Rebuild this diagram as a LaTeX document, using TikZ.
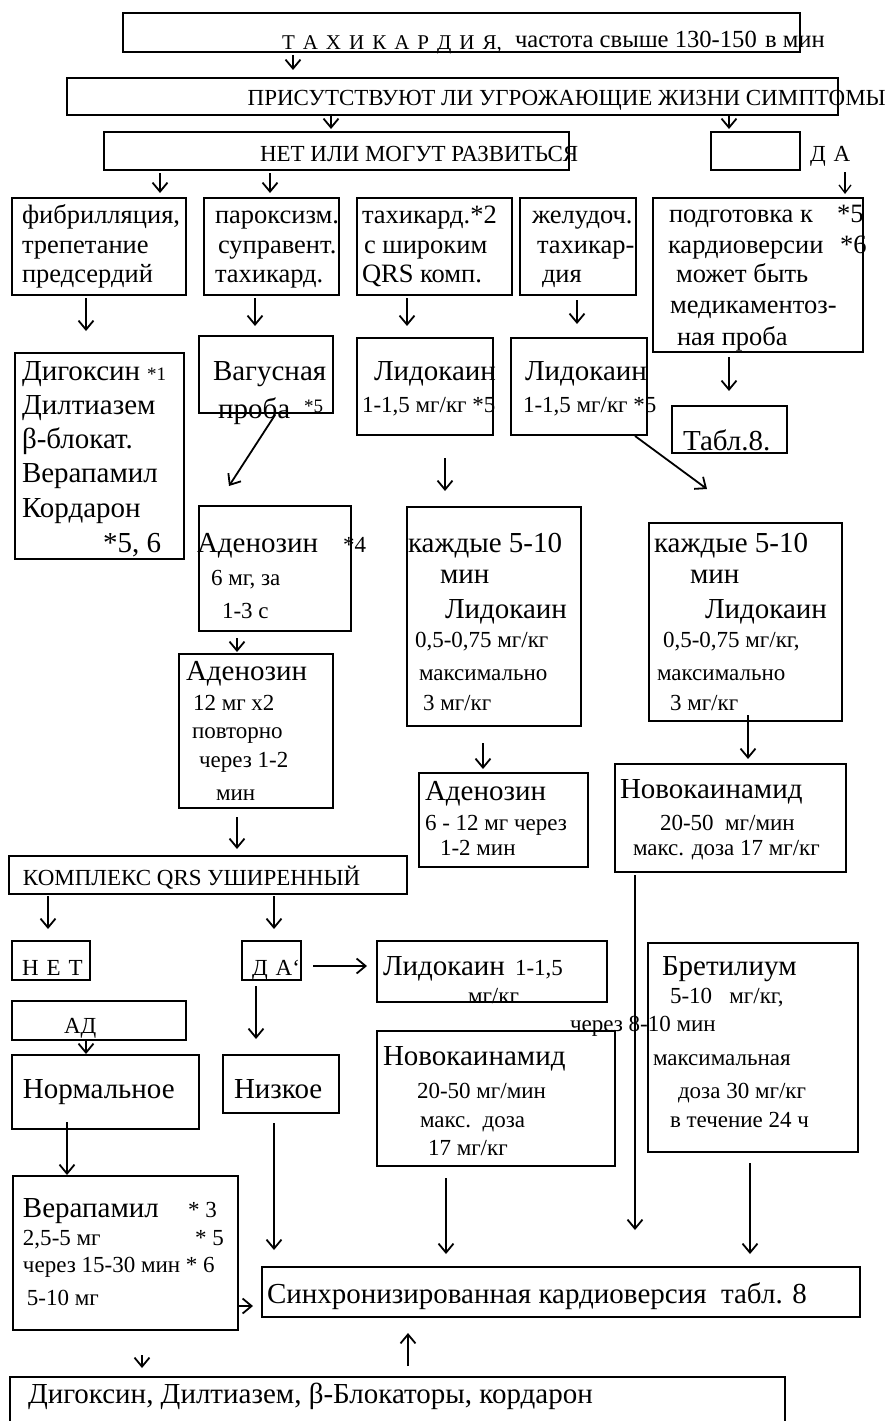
\documentclass[tikz,border=0pt]{standalone}
\usepackage{fontspec}
\setmainfont{Liberation Serif}
\usetikzlibrary{arrows.meta,fit}
% type sizes used in the chart
\newcommand\fbig{\fontsize{29}{33}\selectfont}
\newcommand\fmid{\fontsize{26.5}{30}\selectfont}
\newcommand\fsml{\fontsize{23}{27}\selectfont}
\newcommand\ftny{\fontsize{19}{22}\selectfont}
\newcommand\gp{\hspace{8pt}}
\begin{document}
\begin{tikzpicture}[x=1pt,y=-1pt,
  box/.style={draw, line width=2.4pt, inner sep=0pt, outer sep=0pt},
  lbl/.style={inner sep=0pt, outer sep=0pt, anchor=base west},
  arr/.style={line width=1.8pt, -{Straight Barb[length=9pt,width=15pt,line width=1.8pt]}},
  arrthin/.style={line width=1.3pt, -{Straight Barb[length=8pt,width=12pt,line width=1.3pt]}}]
\useasboundingbox (0,0) rectangle (887,1421);
\fill[white] (0,0) rectangle (887,1421);
\clip (0,0) rectangle (887,1421);

% ---------- boxes ----------
\node[box, fit={(123,13) (800,52)}] (tach) {};
\node[box, fit={(67,78) (838,115)}] (pris) {};
\node[box, fit={(104,132) (569,170)}] (net) {};
\node[box, fit={(711,132) (800,170)}] (da) {};
\node[box, fit={(12,198) (186,295)}] (fib) {};
\node[box, fit={(204,198) (339,295)}] (parox) {};
\node[box, fit={(357,198) (512,295)}] (wide) {};
\node[box, fit={(520,198) (636,295)}] (vent) {};
\node[box, fit={(653,198) (863,352)}] (prep) {};
\node[box, fit={(15,353) (184,559)}] (dig) {};
\node[box, fit={(199,336) (333,413)}] (vag) {};
\node[box, fit={(357,338) (493,435)}] (lidA) {};
\node[box, fit={(511,338) (647,435)}] (lidB) {};
\node[box, fit={(672,406) (787,453)}] (tab) {};
\node[box, fit={(199,506) (351,631)}] (adenA) {};
\node[box, fit={(407,507) (581,726)}] (eachA) {};
\node[box, fit={(649,523) (842,721)}] (eachB) {};
\node[box, fit={(179,654) (333,808)}] (adenB) {};
\node[box, fit={(419,773) (588,867)}] (adenC) {};
\node[box, fit={(615,764) (846,872)}] (novoA) {};
\node[box, fit={(9,856) (407,894)}] (qrs) {};
\node[box, fit={(12,941) (90,980)}] (netb) {};
\node[box, fit={(242,941) (301,980)}] (dab) {};
\node[box, fit={(377,941) (607,1002)}] (lidC) {};
\node[box, fit={(12,1001) (186,1040)}] (ad) {};
\node[box, fit={(12,1055) (199,1129)}] (norm) {};
\node[box, fit={(223,1055) (339,1113)}] (low) {};
\node[box, fit={(377,1031) (615,1166)}] (novoB) {};
\node[box, fit={(648,943) (858,1152)}] (bret) {};
\node[box, fit={(13,1176) (238,1330)}] (vera) {};
\node[box, fit={(262,1267) (860,1317)}] (sync) {};
\node[box, fit={(10,1377) (785,1440)}] (final) {};

% ---------- texts ----------
\node[lbl, font=\fontsize{21}{24}\selectfont] (tA) at (282,49) {Т\gp А\gp Х\gp И\gp К\gp А\gp Р\gp Д\gp И\gp Я,};
\node[lbl, font=\fontsize{24.6}{28}\selectfont] (tB) at (515,48) {частота свыше 130-150};
\node[lbl, font=\fontsize{24.6}{28}\selectfont] (tC) at (765,48) {в мин};
\node[inner sep=0pt, anchor=base east, font=\fsml] (tD) at (886,105) {ПРИСУТСТВУЮТ ЛИ УГРОЖАЮЩИЕ ЖИЗНИ СИМПТОМЫ};
\node[lbl, font=\fsml] (tE) at (260,161) {НЕТ ИЛИ МОГУТ РАЗВИТЬСЯ};
\node[lbl, font=\fsml] (tF) at (810,161) {Д\gp А};

\node[lbl, font=\fmid] (f1) at (22,223) {фибрилляция,};
\node[lbl, font=\fmid] (f2) at (22,253) {трепетание};
\node[lbl, font=\fmid] (f3) at (22,282) {предсердий};
\node[lbl, font=\fmid] (p1) at (215,223) {пароксизм.};
\node[lbl, font=\fmid] (p2) at (218,253) {суправент.};
\node[lbl, font=\fmid] (p3) at (215,282) {тахикард.};
\node[lbl, font=\fmid] (w1) at (362,223) {тахикард.*2};
\node[lbl, font=\fmid] (w2) at (364,253) {с широким};
\node[lbl, font=\fmid] (w3) at (362,282) {QRS комп.};
\node[lbl, font=\fmid] (v1) at (532,223) {желудоч.};
\node[lbl, font=\fmid] (v2) at (537,253) {тахикар-};
\node[lbl, font=\fmid] (v3) at (542,282) {дия};
\node[lbl, font=\fmid] (r1) at (669,222) {подготовка к};
\node[lbl, font=\fmid] (r1s) at (837,222) {*5};
\node[lbl, font=\fmid] (r2) at (668,253) {кардиоверсии};
\node[lbl, font=\fmid] (r2s) at (840,253) {*6};
\node[lbl, font=\fmid] (r3) at (676,282) {может быть};
\node[lbl, font=\fmid] (r4) at (670,313) {медикаментоз-};
\node[lbl, font=\fmid] (r5) at (677,345) {ная проба};

\node[lbl, font=\fbig] (d1) at (22,380) {Дигоксин};
\node[lbl, font=\ftny] (d1s) at (147,380) {*1};
\node[lbl, font=\fbig] (d2) at (22,414) {Дилтиазем};
\node[lbl, font=\fbig] (d3) at (22,448) {β-блокат.};
\node[lbl, font=\fbig] (d4) at (22,482) {Верапамил};
\node[lbl, font=\fbig] (d5) at (22,517) {Кордарон};
\node[lbl, font=\fbig] (d6) at (103,552) {*5, 6};

\node[lbl, font=\fbig] (g1) at (213,380) {Вагусная};
\node[lbl, font=\fbig] (g2) at (218,418) {проба};
\node[lbl, font=\ftny] (g2s) at (304,412) {*5};

\node[lbl, font=\fbig] (la1) at (374,380) {Лидокаин};
\node[lbl, font=\fsml] (la2) at (362,412) {1-1,5 мг/кг *5};
\node[lbl, font=\fbig] (lb1) at (525,380) {Лидокаин};
\node[lbl, font=\fsml] (lb2) at (523,412) {1-1,5 мг/кг *5};
\node[lbl, font=\fbig] (tb1) at (683,450) {Табл.8.};

\node[lbl, font=\fbig] (a1) at (197,552) {Аденозин};
\node[lbl, font=\fsml] (a1s) at (343,552) {*4};
\node[lbl, font=\fsml] (a2) at (211,585) {6 мг, за};
\node[lbl, font=\fsml] (a3) at (222,618) {1-3 с};

\node[lbl, font=\fbig] (e1) at (408,552) {каждые 5-10};
\node[lbl, font=\fbig] (e2) at (440,583) {мин};
\node[lbl, font=\fbig] (e3) at (445,618) {Лидокаин};
\node[lbl, font=\fsml] (e4) at (415,647) {0,5-0,75 мг/кг};
\node[lbl, font=\fsml] (e5) at (419,680) {максимально};
\node[lbl, font=\fsml] (e6) at (423,710) {3 мг/кг};

\node[lbl, font=\fbig] (k1) at (654,552) {каждые 5-10};
\node[lbl, font=\fbig] (k2) at (690,583) {мин};
\node[lbl, font=\fbig] (k3) at (705,618) {Лидокаин};
\node[lbl, font=\fsml] (k4) at (663,647) {0,5-0,75 мг/кг,};
\node[lbl, font=\fsml] (k5) at (657,680) {максимально};
\node[lbl, font=\fsml] (k6) at (670,710) {3 мг/кг};

\node[lbl, font=\fbig] (b1) at (186,680) {Аденозин};
\node[lbl, font=\fsml] (b2) at (193,710) {12 мг х2};
\node[lbl, font=\fsml] (b3) at (192,738) {повторно};
\node[lbl, font=\fsml] (b4) at (199,767) {через 1-2};
\node[lbl, font=\fsml] (b5) at (216,800) {мин};

\node[lbl, font=\fbig] (c1) at (425,800) {Аденозин};
\node[lbl, font=\fsml] (c2) at (425,830) {6 - 12 мг через};
\node[lbl, font=\fsml] (c3) at (440,855) {1-2 мин};

\node[lbl, font=\fbig] (n1) at (620,798) {Новокаинамид};
\node[lbl, font=\fsml] (n2) at (660,830) {20-50\ \ мг/мин};
\node[lbl, font=\fsml] (n3) at (633,855) {макс. доза 17 мг/кг};

\node[lbl, font=\fsml] (q1) at (23,885) {КОМПЛЕКС QRS УШИРЕННЫЙ};
\node[lbl, font=\fsml] (nt) at (22,975) {Н\gp Е\gp Т};
\node[lbl, font=\fsml] (dt) at (252,975) {Д\gp А`};
\node[lbl, font=\fbig] (lc1) at (383,975) {Лидокаин};
\node[lbl, font=\fsml] (lc2) at (515,975) {1-1,5};
\node[lbl, font=\fsml] (lc3) at (468,1003) {мг/кг};
\node[lbl, font=\fsml] (adt) at (64,1033) {АД};
\node[lbl, font=\fbig] (nm) at (23,1098) {Нормальное};
\node[lbl, font=\fbig] (lw) at (234,1098) {Низкое};

\node[lbl, font=\fbig] (m1) at (383,1065) {Новокаинамид};
\node[lbl, font=\fsml] (m2) at (417,1098) {20-50 мг/мин};
\node[lbl, font=\fsml] (m3) at (420,1127) {макс.\ \ доза};
\node[lbl, font=\fsml] (m4) at (428,1155) {17 мг/кг};

\node[lbl, font=\fbig] (s1) at (662,975) {Бретилиум};
\node[lbl, font=\fsml] (s2) at (670,1003) {5-10\ \ \ мг/кг,};
\node[lbl, font=\fsml] (s3) at (570,1031) {через 8-10 мин};
\node[lbl, font=\fsml] (s4) at (653,1065) {максимальная};
\node[lbl, font=\fsml] (s5) at (678,1098) {доза 30 мг/кг};
\node[lbl, font=\fsml] (s6) at (670,1127) {в течение 24 ч};

\node[lbl, font=\fbig] (vr1) at (23,1217) {Верапамил};
\node[lbl, font=\fsml] (vr1s) at (188,1217) {* 3};
\node[lbl, font=\fsml] (vr2) at (23,1245) {2,5-5 мг};
\node[lbl, font=\fsml] (vr2s) at (195,1245) {* 5};
\node[lbl, font=\fsml] (vr3) at (23,1272) {через 15-30 мин * 6};
\node[lbl, font=\fsml] (vr4) at (27,1305) {5-10 мг};

\node[lbl, font=\fbig] (sy) at (267,1303) {Синхронизированная кардиоверсия\ \ табл. 8};
\node[lbl, font=\fbig] (fn) at (28,1403) {Дигоксин, Дилтиазем, β-Блокаторы, кордарон};

% ---------- connectors ----------
\draw[arr] ([shift={(170,3)}]tach.south west) -- ([shift={(226,-8)}]pris.north west);
\draw[arr] ([shift={(264,1)}]pris.south west) -- ([shift={(227,-3)}]net.north west);
\draw[arr] ([shift={(662,1)}]pris.south west) -- ([shift={(18,-3)}]da.north west);
\draw[arr] ([shift={(56,3)}]net.south west) -- ([shift={(148,-5)}]fib.north west);
\draw[arr] ([shift={(166,3)}]net.south west) -- ([shift={(66,-5)}]parox.north west);
\draw[arrthin] ([shift={(35,11)}]tF.base west) -- ([shift={(192,-4)}]prep.north west);
\draw[arr] ([shift={(74,3)}]fib.south west) -- ([shift={(71,-22)}]dig.north west);
\draw[arr] ([shift={(51,3)}]parox.south west) -- ([shift={(56,-10)}]vag.north west);
\draw[arr] ([shift={(50,3)}]wide.south west) -- ([shift={(50,-12)}]lidA.north west);
\draw[arr] ([shift={(57,5)}]vent.south west) -- ([shift={(66,-14)}]lidB.north west);
\draw[arr] ([shift={(76,5)}]prep.south west) -- ([shift={(57,-15)}]tab.north west);
\draw[arr] ([shift={(76,2)}]vag.south west) -- ([shift={(30,-20)}]adenA.north west);
\draw[arr] ([shift={(88,23)}]lidA.south west) -- ([shift={(38,-16)}]eachA.north west);
\draw[arr] ([shift={(124,1)}]lidB.south west) -- ([shift={(58,-34)}]eachB.north west);
\draw[arr] ([shift={(38,7)}]adenA.south west) -- ([shift={(58,-2)}]adenB.north west);
\draw[arr] ([shift={(76,17)}]eachA.south west) -- ([shift={(64,-4)}]adenC.north west);
\draw[arr] ([shift={(99,-6)}]eachB.south west) -- ([shift={(133,-5)}]novoA.north west);
\draw[arr] ([shift={(58,9)}]adenB.south west) -- ([shift={(228,-7)}]qrs.north west);
\draw[arr] ([shift={(39,2)}]qrs.south west) -- ([shift={(36,-12)}]netb.north west);
\draw[arr] ([shift={(265,2)}]qrs.south west) -- ([shift={(32,-12)}]dab.north west);
\draw[arr] ([shift={(12,5.5)}]dab.east) -- ([shift={(-10,-5.5)}]lidC.west);
\draw[arr] ([shift={(14,6)}]dab.south west) -- ([shift={(33,-16)}]low.north west);
\draw[arr] ([shift={(74,0)}]ad.south west) -- ([shift={(74,-1)}]norm.north west);
\draw[arr] ([shift={(55,-7)}]norm.south west) -- ([shift={(54,-1)}]vera.north west);
\draw[arr] ([shift={(51,10)}]low.south west) -- ([shift={(12,-17)}]sync.north west);
\draw[arr] ([shift={(69,12)}]novoB.south west) -- ([shift={(184,-13)}]sync.north west);
\draw[arr] ([shift={(20,3)}]novoA.south west) -- ([shift={(373,-37)}]sync.north west);
\draw[arr] ([shift={(102,11)}]bret.south west) -- ([shift={(488,-13)}]sync.north west);
\draw[arr] ([shift={(0,-24)}]vera.south east) -- ([shift={(-9,-11)}]sync.south west);
\draw[arr] ([shift={(398,-11)}]final.north west) -- ([shift={(146,16)}]sync.south west);
\draw[arr] ([shift={(129,25)}]vera.south west) -- ([shift={(132,-9)}]final.north west);
\end{tikzpicture}
\end{document}
